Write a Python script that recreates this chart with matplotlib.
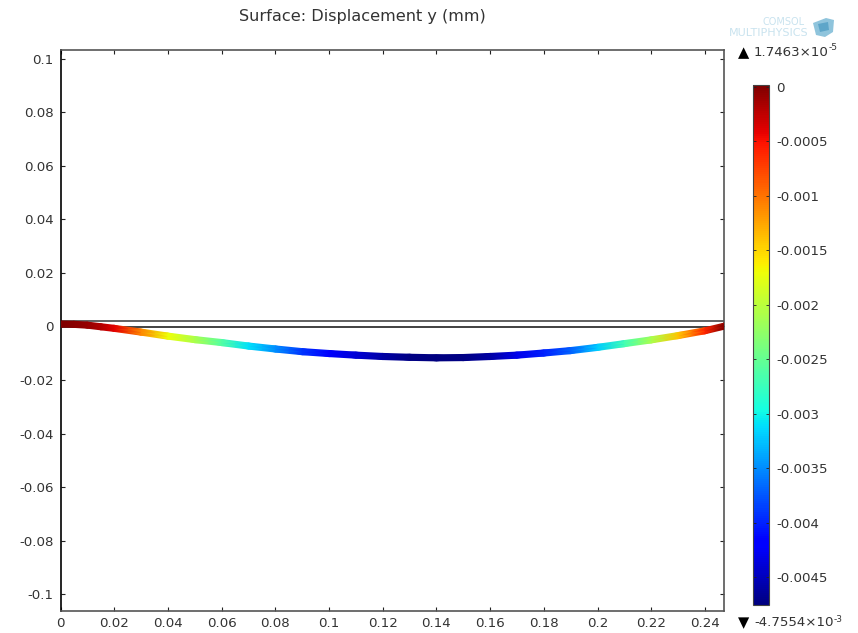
import numpy as np
import matplotlib
matplotlib.use("Agg")
import matplotlib.pyplot as plt
from matplotlib.cm import ScalarMappable
from matplotlib.colors import Normalize
from matplotlib.patches import Polygon

W, H = 858, 633

# Data
title = "Surface: Displacement y (mm)"
x_ticks = [0, 0.02, 0.04, 0.06, 0.08, 0.1, 0.12, 0.14, 0.16, 0.18, 0.2, 0.22, 0.24]
y_ticks = [-0.1, -0.08, -0.06, -0.04, -0.02, 0, 0.02, 0.04, 0.06, 0.08, 0.1]
x_limits = [0, 0.2471]
y_limits = [-0.1062, 0.1032]

beam_length = 0.2471
beam_bottom = -0.0003
beam_top = 0.0019
deformed_thickness = 0.0023

beam_x = [0, 0.005, 0.01, 0.015, 0.02, 0.03, 0.04, 0.05, 0.06, 0.07, 0.08, 0.09, 0.1, 0.11,
          0.12, 0.13, 0.14, 0.15, 0.16, 0.17, 0.18, 0.19, 0.2, 0.21, 0.22, 0.23, 0.24, 0.2471]
beam_y = [0.0009, 0.0008, 0.0005, -0.0001, -0.0007, -0.0021, -0.0036, -0.0049, -0.0060,
          -0.0073, -0.0084, -0.0094, -0.0101, -0.0107, -0.0112, -0.0115, -0.0117, -0.0116,
          -0.0112, -0.0107, -0.0099, -0.0090, -0.0078, -0.0064, -0.0050, -0.0034, -0.0016,
          0.0001]
beam_u = [0, -0.00002, -0.00008, -0.0002, -0.0004, -0.0011, -0.0017, -0.0021, -0.0026,
          -0.0031, -0.0035, -0.0039, -0.0042, -0.0044, -0.0046, -0.00472, -0.00475, -0.00472,
          -0.0046, -0.0043, -0.0040, -0.0037, -0.0032, -0.0027, -0.0021, -0.0014, -0.0006, 0]

c_min = -4.7554e-3
c_max = 1.7463e-5
c_ticks = [0, -0.0005, -0.001, -0.0015, -0.002, -0.0025, -0.003, -0.0035, -0.004, -0.0045]
c_labels = ["0", "-0.0005", "-0.001", "-0.0015", "-0.002", "-0.0025", "-0.003", "-0.0035",
            "-0.004", "-0.0045"]
max_label = ("1.7463×10", "-5")
min_label = ("-4.7554×10", "-3")
logo_lines = ["COMSOL", "MULTIPHYSICS"]

TXT = "#333333"
FS = 9.6


def rect(l, t, r, b):
    return [l / W, 1 - b / H, (r - l) / W, (b - t) / H]


def fmt(v):
    return "0" if v == 0 else f"{v:g}"


fig = plt.figure(figsize=(W / 100, H / 100), dpi=100)
ax = fig.add_axes(rect(60.5, 50, 724, 611))
ax.set_xlim(x_limits)
ax.set_ylim(y_limits)
ax.set_xticks(x_ticks, [fmt(v) for v in x_ticks])
ax.set_yticks(y_ticks, [fmt(v) for v in y_ticks])
ax.tick_params(axis="both", which="major", direction="in", length=3, width=0.8,
               top=True, right=True, labelsize=FS, labelcolor=TXT, pad=5, color="#222222")
ax.tick_params(axis="x", pad=4.5)
for name, sp in ax.spines.items():
    sp.set_linewidth(1.2)
    sp.set_color("#000000" if name == "left" else "#555555")

norm = Normalize(c_min, c_max)
bx = np.array(beam_x)
by = np.array(beam_y)
bu = np.array(beam_u)
offs = np.array([-0.5, 0, 0.5]) * deformed_thickness
X = np.tile(bx, (3, 1))
Y = np.vstack([by + o for o in offs])
C = np.tile(bu, (3, 1))
ax.pcolormesh(X, Y, C, shading="gouraud", cmap="jet", norm=norm, zorder=3)

ax.plot([0, beam_length], [beam_top, beam_top], color="#555555", lw=1.3, zorder=2)
ax.plot([0, beam_length], [beam_bottom, beam_bottom], color="#333333", lw=1.3, zorder=2)

fig.text(362 / W, 1 - 16 / H, title, ha="center", va="center", fontsize=11.6, color=TXT)

# colour bar
cax = fig.add_axes(rect(753, 85, 769, 605))
cb = fig.colorbar(ScalarMappable(norm=norm, cmap="jet"), cax=cax)
cb.set_ticks(c_ticks, labels=c_labels)
cax.tick_params(axis="y", direction="in", length=2, width=0.6, left=True, right=True,
                labelsize=FS, labelcolor=TXT, pad=5, color="#222222")
cb.outline.set_edgecolor("#444444")
cb.outline.set_linewidth(0.8)

# extremes
fig.text(743.5 / W, 1 - 53 / H, "▲", ha="center", va="center", fontsize=10.5, color="black")
fig.text(754 / W, 1 - 53 / H, max_label[0], ha="left", va="center", fontsize=FS, color=TXT)
fig.text(829 / W, 1 - 47 / H, max_label[1], ha="left", va="center", fontsize=6.5, color=TXT)
fig.text(743.5 / W, 1 - 623 / H, "▼", ha="center", va="center", fontsize=10.5, color="black")
fig.text(754 / W, 1 - 623 / H, min_label[0], ha="left", va="center", fontsize=FS, color=TXT)
fig.text(834 / W, 1 - 619 / H, min_label[1], ha="left", va="center", fontsize=6.5, color=TXT)

# logo
logo_col = "#c9e3ef"
fig.text(805 / W, 1 - 22 / H, logo_lines[0], ha="right", va="center", fontsize=7.0, color=logo_col)
fig.text(808 / W, 1 - 33 / H, logo_lines[1], ha="right", va="center", fontsize=8.0, color=logo_col)
cube = Polygon([(813 / W, 1 - 23 / H), (826 / W, 1 - 18 / H), (834 / W, 1 - 20 / H),
                (833 / W, 1 - 32 / H), (825 / W, 1 - 37 / H), (816 / W, 1 - 35 / H)],
               closed=True, transform=fig.transFigure, facecolor="#8fc4dc", edgecolor="none")
fig.add_artist(cube)
facet = Polygon([(818 / W, 1 - 24 / H), (828 / W, 1 - 22 / H), (829 / W, 1 - 30 / H),
                 (820 / W, 1 - 32 / H)],
                closed=True, transform=fig.transFigure, facecolor="#5ea6c9", edgecolor="none")
fig.add_artist(facet)

fig.savefig("out.png", dpi=100)
